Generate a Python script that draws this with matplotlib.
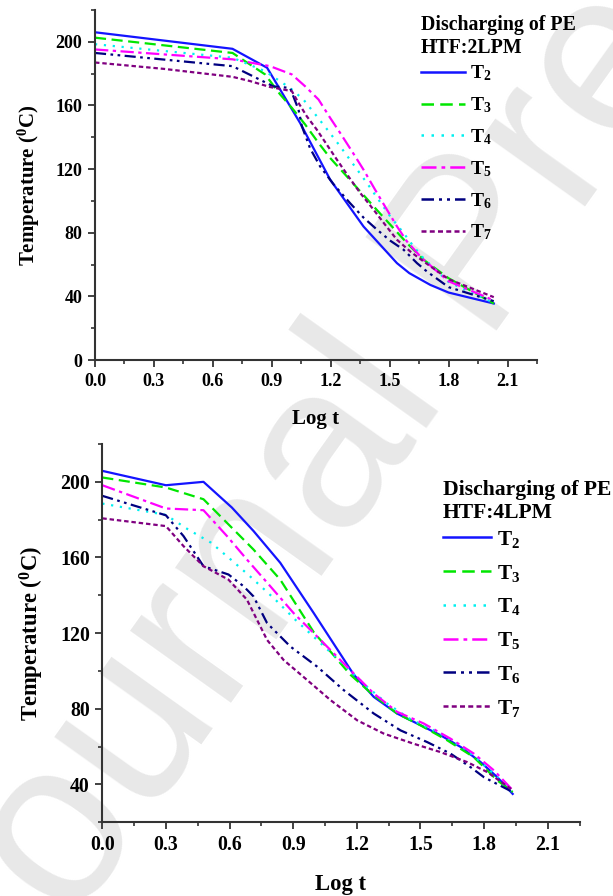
import matplotlib
matplotlib.use("Agg")
import matplotlib.pyplot as plt
from matplotlib.lines import Line2D
from matplotlib.ticker import MultipleLocator

plt.rcParams["font.family"] = "Liberation Serif"
plt.rcParams["font.weight"] = "bold"
plt.rcParams["mathtext.fontset"] = "custom"
plt.rcParams["mathtext.rm"] = "Liberation Serif:bold"
plt.rcParams["mathtext.it"] = "Liberation Serif:bold"
plt.rcParams["mathtext.bf"] = "Liberation Serif:bold"

# ---- 2 LPM (top panel) ----
t2_x_2 = [0, 0.70, 0.876, 1.044, 1.197, 1.367, 1.537, 1.60, 1.707, 1.80, 2.03]
t2_y_2 = [206, 195.6, 183.7, 149, 113.4, 83.9, 60.9, 54.6, 47.2, 42.4, 35.5]
t3_x_2 = [0, 0.70, 0.866, 0.942, 1.002, 1.070, 1.138, 1.197, 1.274, 1.350, 1.426, 1.511, 1.588, 1.673, 1.80, 2.03]
t3_y_2 = [202.6, 193, 179.5, 167, 158.5, 148, 136.4, 127, 116.5, 106, 95.5, 84, 73.5, 63, 51.4, 35.5]
t4_x_2 = [0, 0.70, 0.866, 0.993, 1.061, 1.129, 1.189, 1.248, 1.316, 1.384, 1.443, 1.503, 1.571, 1.622, 1.672, 1.80, 2.03]
t4_y_2 = [198.5, 190, 181.5, 171, 163.7, 153.2, 143.8, 134.3, 122.8, 111.3, 100.8, 90.2, 79.8, 71.3, 64, 49, 36]
t5_x_2 = [0, 0.70, 0.891, 1.002, 1.07, 1.138, 1.197, 1.248, 1.308, 1.367, 1.426, 1.486, 1.537, 1.588, 1.664, 1.80, 2.03]
t5_y_2 = [195.2, 189, 184.7, 179.5, 172, 163.7, 152.2, 142.7, 131.2, 119.6, 107, 94.5, 84, 74.5, 64, 49.5, 37.5]
t6_x_2 = [0, 0.70, 0.908, 0.993, 1.036, 1.053, 1.095, 1.146, 1.214, 1.299, 1.367, 1.435, 1.503, 1.571, 1.639, 1.69, 1.80, 2.03]
t6_y_2 = [193, 184.7, 172, 171, 157.4, 147, 133, 121.7, 110.5, 98.5, 89.5, 82, 75, 69.3, 60.9, 55.6, 45.8, 37]
t7_x_2 = [0, 0.35, 0.70, 0.79, 0.891, 0.959, 1.002, 1.036, 1.078, 1.129, 1.18, 1.231, 1.29, 1.35, 1.418, 1.477, 1.537, 1.605, 1.672, 1.80, 2.03]
t7_y_2 = [187, 183, 178, 175.3, 171.6, 170, 169, 161.6, 153.2, 144.8, 135.4, 126, 115.4, 105, 94.5, 85, 75.6, 68.2, 62, 50.8, 39.5]

# ---- 4 LPM (bottom panel) ----
t2_x_4 = [0, 0.30, 0.477, 0.611, 0.713, 0.839, 0.997, 1.186, 1.28, 1.39, 1.485, 1.595, 1.69, 1.784, 1.863, 1.935]
t2_y_4 = [205.8, 198.2, 200, 186.4, 174, 157.2, 130.6, 98, 86.3, 77.5, 72.2, 66, 59.8, 51.8, 43.8, 35]
t3_x_4 = [0, 0.30, 0.477, 0.595, 0.713, 0.839, 0.997, 1.17, 1.265, 1.39, 1.5, 1.627, 1.752, 1.863, 1.935]
t3_y_4 = [202.3, 197, 190.8, 177.5, 164.2, 148.3, 120.5, 98, 88.5, 77.5, 71.3, 63.3, 54.4, 42.1, 36]
t4_x_4 = [0, 0.30, 0.402, 0.513, 0.605, 0.697, 0.816, 0.91, 1.013, 1.115, 1.249, 1.343, 1.453, 1.595, 1.721, 1.83, 1.935]
t4_y_4 = [188.5, 182.5, 175, 167.8, 159, 150, 137.7, 127.1, 116.4, 105.8, 91.6, 82.8, 74.5, 66.9, 58, 47.4, 35.5]
t5_x_4 = [0, 0.30, 0.477, 0.588, 0.682, 0.792, 0.902, 1.013, 1.138, 1.28, 1.39, 1.516, 1.642, 1.752, 1.847, 1.935]
t5_y_4 = [198.2, 185.9, 185, 171.3, 158.9, 144.8, 130.6, 118.2, 104, 88.1, 78.4, 72.2, 64.2, 56.3, 47.4, 37]
t6_x_4 = [0, 0.30, 0.383, 0.477, 0.595, 0.666, 0.713, 0.777, 0.887, 1.013, 1.138, 1.28, 1.406, 1.532, 1.642, 1.737, 1.80, 1.935]
t6_y_4 = [192.6, 182.3, 171.3, 155.4, 151, 144.8, 139.4, 125.3, 112.9, 102.3, 89.9, 77.5, 68.6, 62.4, 56.3, 49.1, 43.8, 36]
t7_x_4 = [0, 0.30, 0.383, 0.477, 0.595, 0.682, 0.777, 0.855, 0.966, 1.076, 1.202, 1.327, 1.469, 1.595, 1.721, 1.816, 1.935]
t7_y_4 = [180.7, 176.6, 166, 155.4, 148.3, 137.7, 116.4, 105.8, 95.2, 84.6, 73.9, 66.9, 61.5, 57.1, 51.8, 46.5, 37]

labels = ["T$_2$", "T$_3$", "T$_4$", "T$_5$", "T$_6$", "T$_7$"]
colors = ["#1414ff", "#00e600", "#00f0f0", "#ff00ff", "#000080", "#800080"]
styles = ["-", (0, (5, 2.5)), (0, (1, 3)), (0, (6, 2, 1.5, 2)),
          (0, (5, 2, 1.2, 2, 1.2, 2)), (0, (2, 1.3))]

top_series = [(t2_x_2, t2_y_2), (t3_x_2, t3_y_2), (t4_x_2, t4_y_2),
              (t5_x_2, t5_y_2), (t6_x_2, t6_y_2), (t7_x_2, t7_y_2)]
bot_series = [(t2_x_4, t2_y_4), (t3_x_4, t3_y_4), (t4_x_4, t4_y_4),
              (t5_x_4, t5_y_4), (t6_x_4, t6_y_4), (t7_x_4, t7_y_4)]

fig = plt.figure(figsize=(6.13, 8.96), dpi=100)

# watermark behind everything
fig.text(0.0065, -0.14, "Journal Pre-proof", family="Liberation Sans", weight="normal",
         fontsize=168, color="#e8e8e8", rotation=54.5, rotation_mode="anchor",
         ha="left", va="baseline", zorder=-5)

ax1 = fig.add_axes([95 / 613, 1 - 360 / 896, 442 / 613, 350 / 896])
ax2 = fig.add_axes([102.3 / 613, 1 - 822.3 / 896, 477.2 / 613, 378.3 / 896])


def style_axes(ax, ymin, title, legend_anchor, fs, lspace):
    ax.patch.set_alpha(0)
    for sp in ["top", "right"]:
        ax.spines[sp].set_visible(False)
    for sp in ["left", "bottom"]:
        ax.spines[sp].set_linewidth(1.5)
        ax.spines[sp].set_color("#333333")
    ax.set_xlim(0, 2.25)
    ax.set_ylim(ymin, 220)
    ax.xaxis.set_minor_locator(MultipleLocator(0.15))
    ax.yaxis.set_major_locator(MultipleLocator(40))
    ax.yaxis.set_minor_locator(MultipleLocator(20))
    ax.set_xticks([0, 0.3, 0.6, 0.9, 1.2, 1.5, 1.8, 2.1])
    ax.set_xticklabels(["0.0", "0.3", "0.6", "0.9", "1.2", "1.5", "1.8", "2.1"])
    ax.tick_params(which="major", length=5, width=1.3, labelsize=fs, pad=4, color="#333333")
    ax.tick_params(which="minor", length=3, width=1.2, color="#333333")
    ax.set_xlabel("Log t", fontsize=fs + 2, fontweight="bold", labelpad=14)
    ax.set_ylabel("Temperature ($^{0}$C)", fontsize=fs + 2, fontweight="bold", labelpad=10)
    handles = [Line2D([], [], color=c, linestyle=s, linewidth=1.8)
               for c, s in zip(colors, styles)]
    leg = ax.legend(handles, labels, title=title, alignment="left", frameon=False,
                    loc="upper left", bbox_to_anchor=legend_anchor,
                    bbox_transform=fig.transFigure, borderpad=0, borderaxespad=0,
                    handlelength=2.3, handletextpad=0.25, labelspacing=lspace,
                    prop={"size": fs + 1, "weight": "bold"},
                    title_fontproperties={"size": fs + 1.3, "weight": "bold"})
    leg._legend_box.sep = 4


style_axes(ax1, 0, "Discharging of PE\nHTF:2LPM", (0.686, 0.983), 13, 0.62)
style_axes(ax2, 20, "Discharging of PE\nHTF:4LPM", (0.722, 0.464), 14.3, 0.6)

for (x, y), c, s in zip(top_series, colors, styles):
    ax1.plot(x, y, color=c, linestyle=s, linewidth=1.6)
for (x, y), c, s in zip(bot_series, colors, styles):
    ax2.plot(x, y, color=c, linestyle=s, linewidth=1.6)

fig.savefig("out.png", dpi=100)
